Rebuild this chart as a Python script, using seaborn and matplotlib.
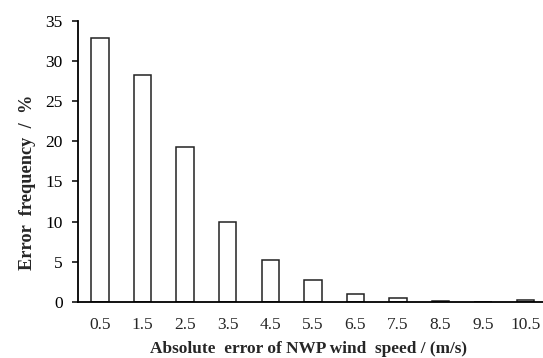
import matplotlib
matplotlib.use("Agg")
import matplotlib.pyplot as plt
import seaborn as sns
import pandas as pd

categories = ["0.5", "1.5", "2.5", "3.5", "4.5", "5.5", "6.5", "7.5", "8.5", "9.5", "10.5"]
frequency = [32.9, 28.3, 19.3, 10.0, 5.2, 2.7, 1.0, 0.5, 0.15, 0.03, 0.2]
yticks = [0, 5, 10, 15, 20, 25, 30, 35]

sns.set_style("ticks")
plt.rcParams["font.family"] = ["Liberation Serif", "DejaVu Serif"]

df = pd.DataFrame({"err": categories, "freq": frequency})

fig = plt.figure(figsize=(5.43, 3.58), dpi=100)
ax = fig.add_axes([0.1436, 0.1564, 0.8564, 0.7856])

sns.barplot(data=df, x="err", y="freq", order=categories, color="white",
            edgecolor="#222222", linewidth=1.1, width=0.41, ax=ax)

ax.set_xlim(-0.52, 10.41)
ax.set_ylim(0, 35)
ax.set_yticks(yticks)
ax.set_yticklabels([str(v) for v in yticks])
for s in ["top", "right"]:
    ax.spines[s].set_visible(False)
for s in ["left", "bottom"]:
    ax.spines[s].set_linewidth(1.3)
    ax.spines[s].set_color("black")

ax.tick_params(axis="y", direction="out", length=4.5, width=1.1, pad=6.5,
               labelsize=12.5, colors="black")
ax.tick_params(axis="x", length=0, pad=10.5, labelsize=12.5)

ax.set_xlabel("Absolute  error of NWP wind  speed / (m/s)", fontsize=12.4,
              fontweight="bold")
ax.set_ylabel("Error  frequency  /  %", fontsize=13.2, fontweight="bold")
ax.xaxis.set_label_coords(0.496, -0.139)
ax.yaxis.set_label_coords(-0.1075, 0.425)
ax.yaxis.label.set_va("center")
ax.xaxis.label.set_va("top")

fig.savefig("out.png", dpi=100)
